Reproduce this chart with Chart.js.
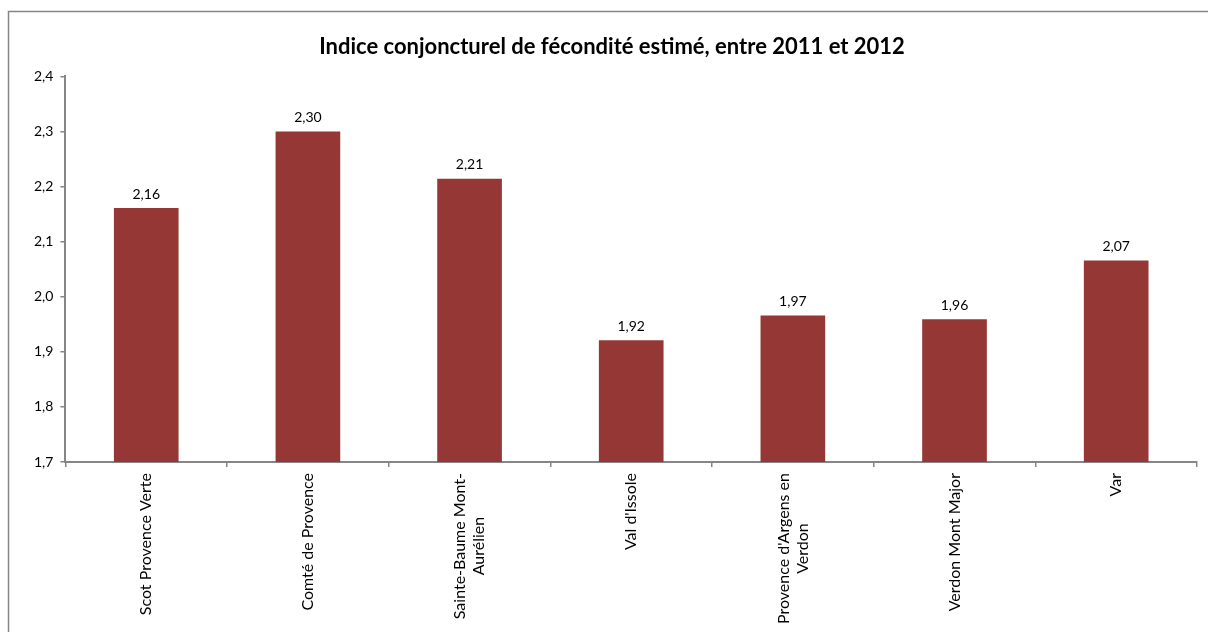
<!DOCTYPE html>
<html>
<head>
	<meta charset="UTF-8">
	<title>Indice conjoncturel de fécondité estimé, entre 2011 et 2012</title>
	<style>
		body { margin: 0; background: #fff; }
		#wrap { width: 1208px; height: 632px; }
	</style>
	<script src="https://cdn.jsdelivr.net/npm/chart.js@4.4.0/dist/chart.umd.min.js"></script>
</head>
<body>
	<div id="wrap"><canvas id="canvas"></canvas></div>
	<script>
		var territoires = [
			'Scot Provence Verte',
			'Comté de Provence',
			['Sainte-Baume Mont-', 'Aurélien'],
			"Val d'Issole",
			["Provence d'Argens en", 'Verdon'],
			'Verdon Mont Major',
			'Var'
		];
		var icf = [2.161, 2.300, 2.214, 1.921, 1.966, 1.959, 2.066];
		var yMin = 1.7, yMax = 2.4, yStep = 0.1;

		var barColor = '#953735';
		var axisColor = '#868686';
		var fontFamily = 'Lato, "Liberation Sans", sans-serif';

		function virgule(v, d) { return v.toFixed(d).replace('.', ','); }

		// cadre gris autour du graphique
		var cadre = {
			id: 'cadre',
			beforeDraw: function(chart) {
				var ctx = chart.ctx;
				ctx.save();
				ctx.fillStyle = '#fff';
				ctx.fillRect(0, 0, chart.width, chart.height);
				ctx.strokeStyle = axisColor;
				ctx.lineWidth = 1.5;
				ctx.strokeRect(8.5, 11.5, chart.width + 50, chart.height + 50);
				ctx.restore();
			}
		};

		// étiquettes de valeur au-dessus des barres
		var etiquettes = {
			id: 'etiquettes',
			afterDatasetsDraw: function(chart) {
				var ctx = chart.ctx;
				var meta = chart.getDatasetMeta(0);
				ctx.save();
				ctx.font = '14px ' + fontFamily;
				ctx.fillStyle = '#000';
				ctx.textAlign = 'center';
				ctx.textBaseline = 'bottom';
				meta.data.forEach(function(bar, i) {
					ctx.fillText(virgule(icf[i], 2), bar.x, bar.y - 7);
				});
				ctx.restore();
			}
		};

		// libellés verticaux de l'axe x, lignes centrées comme dans Excel
		var libelles = {
			id: 'libelles',
			afterDraw: function(chart) {
				var ctx = chart.ctx;
				var xs = chart.scales.x;
				var lh = 19;
				ctx.save();
				ctx.font = '16px ' + fontFamily;
				ctx.fillStyle = '#000';
				ctx.textAlign = 'center';
				ctx.textBaseline = 'middle';
				territoires.forEach(function(lab, i) {
					var lignes = Array.isArray(lab) ? lab : [lab];
					var maxW = 0;
					lignes.forEach(function(l) { maxW = Math.max(maxW, ctx.measureText(l).width); });
					ctx.save();
					ctx.translate(xs.getPixelForValue(i), xs.top + 11);
					ctx.rotate(-Math.PI / 2);
					lignes.forEach(function(l, j) {
						ctx.fillText(l, -maxW / 2, (j - (lignes.length - 1) / 2) * lh);
					});
					ctx.restore();
				});
				ctx.restore();
			}
		};

		new Chart(document.getElementById('canvas').getContext('2d'), {
			type: 'bar',
			data: {
				labels: territoires,
				datasets: [{
					data: icf,
					backgroundColor: barColor,
					borderWidth: 0,
					categoryPercentage: 1,
					barPercentage: 0.4
				}]
			},
			options: {
				responsive: true,
				maintainAspectRatio: false,
				animation: false,
				layout: { padding: { left: 27, right: 11, top: 0, bottom: 0 } },
				plugins: {
					legend: { display: false },
					tooltip: { enabled: false },
					title: {
						display: true,
						text: 'Indice conjoncturel de fécondité estimé, entre 2011 et 2012',
						color: '#000',
						font: { family: fontFamily, size: 22, weight: 'bold' },
						padding: { top: 34, bottom: 16 }
					}
				},
				scales: {
					x: {
						afterFit: function(scale) { scale.height = 170; },
						border: { color: axisColor, width: 2 },
						grid: { display: true, drawOnChartArea: false, drawTicks: true, tickLength: 5, offset: true, color: axisColor, lineWidth: 1.5 },
						ticks: { display: false }
					},
					y: {
						min: yMin,
						max: yMax,
						border: { color: axisColor, width: 2 },
						grid: { display: true, drawOnChartArea: false, drawTicks: true, tickLength: 5, color: axisColor, lineWidth: 1.5 },
						ticks: {
							stepSize: yStep,
							color: '#000',
							font: { family: fontFamily, size: 14 },
							padding: 7,
							callback: function(v) { return virgule(v, 1); }
						}
					}
				}
			},
			plugins: [cadre, etiquettes, libelles]
		});
	</script>
</body>
</html>
